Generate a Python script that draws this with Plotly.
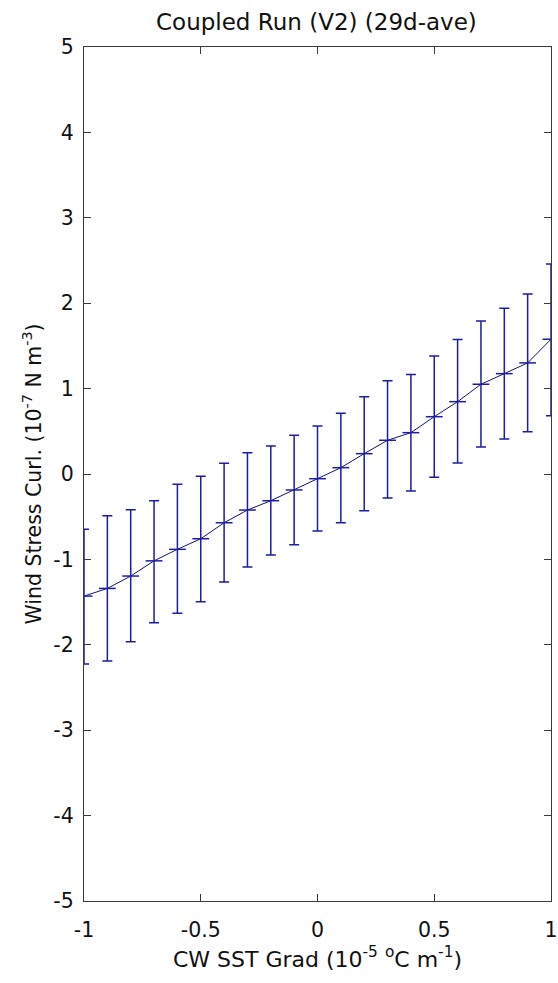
import plotly.graph_objects as go

# Data
sst_grad = [-1.0, -0.9, -0.8, -0.7, -0.6, -0.5, -0.4, -0.3, -0.2, -0.1, 0.0,
            0.1, 0.2, 0.3, 0.4, 0.5, 0.6, 0.7, 0.8, 0.9, 1.0]
curl_mean = [-1.43, -1.34, -1.195, -1.017, -0.882, -0.758, -0.571, -0.422, -0.313, -0.187, -0.055,
             0.074, 0.238, 0.395, 0.484, 0.671, 0.847, 1.051, 1.175, 1.301, 1.578]
curl_upper = [-0.648, -0.49, -0.42, -0.313, -0.121, -0.027, 0.125, 0.25, 0.328, 0.453, 0.562,
              0.711, 0.906, 1.093, 1.164, 1.383, 1.574, 1.793, 1.942, 2.109, 2.46]
curl_lower = [-2.226, -2.19, -1.965, -1.742, -1.632, -1.496, -1.266, -1.09, -0.949, -0.828, -0.668,
              -0.571, -0.43, -0.281, -0.199, -0.039, 0.129, 0.316, 0.41, 0.496, 0.683]

x_ticks = [-1, -0.5, 0, 0.5, 1]
x_labels = ["-1", "-0.5", "0", "0.5", "1"]
y_ticks = [-5, -4, -3, -2, -1, 0, 1, 2, 3, 4, 5]
y_labels = [str(v) for v in y_ticks]

err_plus = [u - m for u, m in zip(curl_upper, curl_mean)]
err_minus = [m - l for m, l in zip(curl_mean, curl_lower)]

FONT = "DejaVu Sans, Liberation Sans, sans-serif"
BLUE = "#1c1ca8"

fig = go.Figure()
fig.add_trace(go.Scatter(
    x=sst_grad, y=curl_mean, mode="lines+markers",
    line=dict(color="#141470", width=1),
    marker=dict(symbol="line-ew-open", size=12, line=dict(color=BLUE, width=1.5), color=BLUE),
    error_y=dict(type="data", symmetric=False, array=err_plus, arrayminus=err_minus,
                 color=BLUE, thickness=1.5, width=5),
    cliponaxis=True,
    showlegend=False,
))

axis_common = dict(
    showline=True, linecolor="#3a3a3a", linewidth=1.2, mirror="ticks",
    ticks="inside", ticklen=7, tickcolor="#3a3a3a", tickwidth=1.2,
    showgrid=False, zeroline=False, automargin=False,
    ticklabeloverflow="allow",
    tickfont=dict(family=FONT, size=20.5, color="#111111"),
)

fig.update_layout(
    width=558, height=983,
    margin=dict(l=84, r=7, t=47, b=82, autoexpand=False),
    paper_bgcolor="white", plot_bgcolor="white",
    title=dict(text="Coupled Run (V2) (29d-ave)", x=0.567, xanchor="center",
               y=0.978, yanchor="middle",
               font=dict(family=FONT, size=23, color="#111111")),
    xaxis=dict(range=[-1, 1], tickvals=x_ticks, ticktext=x_labels,
               ticklabelstandoff=10,
               title=dict(text="CW SST Grad (10<sup>-5</sup> <sup>o</sup>C m<sup>-1</sup>)",
                          font=dict(family=FONT, size=22, color="#111111"), standoff=10),
               **axis_common),
    yaxis=dict(range=[-5, 5], tickvals=y_ticks, ticktext=y_labels,
               ticklabelstandoff=5,
               title=dict(text="Wind Stress Curl. (10<sup>-7</sup> N m<sup>-3</sup>)",
                          font=dict(family=FONT, size=20.5, color="#111111"), standoff=6),
               **axis_common),
)

fig.write_html("out.html")
